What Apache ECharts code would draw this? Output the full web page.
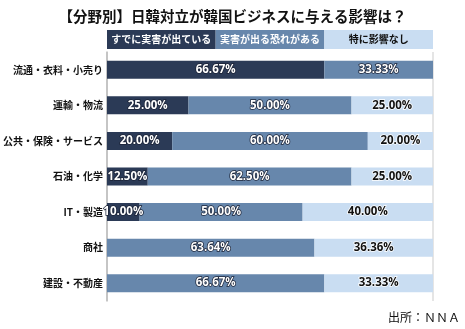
<!DOCTYPE html>
<html><head><meta charset="utf-8">
<script src="https://cdn.jsdelivr.net/npm/echarts@6/dist/echarts.min.js"></script>
<style>html,body{margin:0;padding:0;background:#fff}#c{width:465px;height:329px}</style>
</head><body><div id="c"></div>
<script>
const categories = ['流通・衣料・小売り','運輸・物流','公共・保険・サービス','石油・化学','IT・製造','商社','建設・不動産'];
const seriesNames = ['すでに実害が出ている','実害が出る恐れがある','特に影響なし'];
const actualDamage = [66.67, 25.00, 20.00, 12.50, 10.00, 0, 0];
const riskOfDamage = [33.33, 50.00, 60.00, 62.50, 50.00, 63.64, 66.67];
const noEffect = [0, 25.00, 20.00, 25.00, 40.00, 36.36, 33.33];
const colors = ['#2b3a56', '#6787ac', '#c9ddf2'];
const font = '"Noto Sans CJK JP", "Noto Sans", sans-serif';
const numFont = '"Open Sans", "Noto Sans", sans-serif';

const chart = echarts.init(document.getElementById('c'));
const mk = (name, data, i) => ({
  name, type: 'bar', stack: 's', data, barWidth: 18,
  itemStyle: { color: colors[i] },
  label: {
    show: true, position: 'inside', fontFamily: numFont, fontSize: 11.5, fontWeight: 'bold',
    color: i < 2 ? '#fff' : '#111',
    textBorderColor: i < 2 ? '#1b2235' : '#fff', textBorderWidth: 1.5,
    formatter: p => p.value > 0 ? p.value.toFixed(2) + '%' : ''
  }
});
const legendW = 326 / 3;
const legendGraphics = seriesNames.map((n, i) => ({
  type: 'group', left: 107 + i * legendW, top: 30,
  children: [
    { type: 'rect', shape: { x: 0, y: 0, width: legendW, height: 19 }, style: { fill: colors[i] } },
    { type: 'text', x: legendW / 2, y: 9.5, style: { text: n, fill: i < 2 ? '#fff' : '#111', font: 'bold 10px ' + font, textAlign: 'center', textVerticalAlign: 'middle' } }
  ]
}));
chart.setOption({
  animation: false,
  title: { text: '【分野別】日韓対立が韓国ビジネスに与える影響は？', left: 'center', top: 4,
    textStyle: { fontFamily: font, fontSize: 14.5, fontWeight: 'bold', color: '#111' } },
  grid: { left: 107, right: 32, top: 52, bottom: 28, containLabel: false, outerBoundsMode: 'none' },
  xAxis: { type: 'value', min: 0, max: 100, interval: 100, show: true,
    axisLabel: { show: false }, axisLine: { show: false }, axisTick: { show: false },
    splitLine: { show: true, lineStyle: { color: '#dddddd', width: 1.5 } } },
  yAxis: { type: 'category', inverse: true, data: categories,
    axisLine: { show: true, lineStyle: { color: '#bbbbbb', width: 1.5 } }, axisTick: { show: false },
    axisLabel: { fontFamily: font, fontSize: 10, fontWeight: 'bold', color: '#111', margin: 4 } },
  graphic: legendGraphics.concat([
    { type: 'text', right: 5, top: 311, style: { text: '出所：ＮＮＡ', fill: '#111', font: '12px ' + font } }
  ]),
  series: [mk(seriesNames[0], actualDamage, 0), mk(seriesNames[1], riskOfDamage, 1), mk(seriesNames[2], noEffect, 2)]
});
</script></body></html>
